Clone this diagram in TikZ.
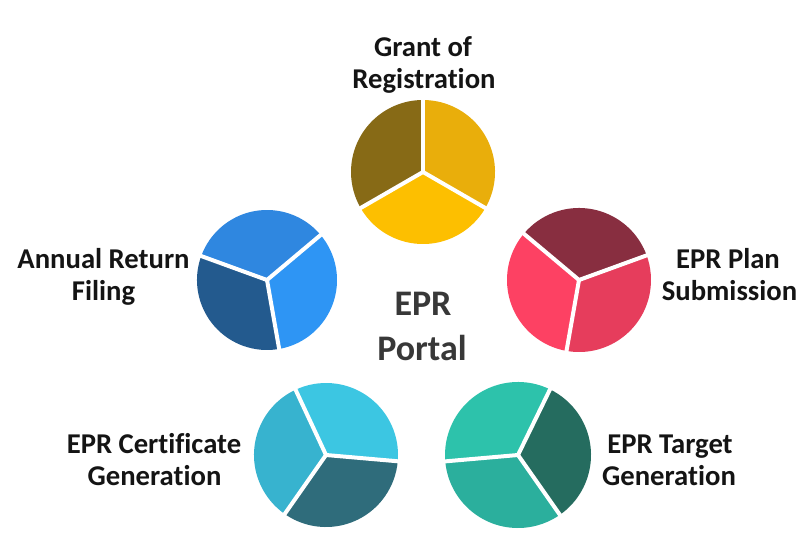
\documentclass[tikz,border=0pt]{standalone}
\usepackage{fontspec}
\setmainfont{Carlito}[RawFeature={-liga;-clig;-dlig;-calt;-rlig}]
\begin{document}
\begin{tikzpicture}[x=0.75pt,y=0.75pt,
  lbl/.style={font=\fontsize{21.5}{24}\selectfont\bfseries, text=black!92, inner sep=0pt, anchor=base},
  portal/.style={font=\fontsize{27}{32}\selectfont\bfseries, text=black!78, inner sep=0pt, anchor=base},
  gap/.style={draw=white, line width=3pt}]
\useasboundingbox[fill=white] (0,0) rectangle (806,551);
% pie: #1 center, #2 radius, #3 a1, #4 a2, #5 a3, #6..#8 colours
\newcommand{\mypie}[8]{%
  \fill[#6] #1 -- ++(#3:#2) arc[start angle=#3, end angle=#4, radius=#2] -- cycle;
  \fill[#7] #1 -- ++(#4:#2) arc[start angle=#4, end angle=#5, radius=#2] -- cycle;
  \fill[#8] #1 -- ++(#5:#2) arc[start angle=#5, end angle=#3+360, radius=#2] -- cycle;
  \draw[gap] #1 -- ++(#3:#2+2);
  \draw[gap] #1 -- ++(#4:#2+2);
  \draw[gap] #1 -- ++(#5:#2+2);
}
\definecolor{g1}{HTML}{876A16}\definecolor{g2}{HTML}{FDBF00}\definecolor{g3}{HTML}{E9AE0B}
\definecolor{b1}{HTML}{2F87E0}\definecolor{b2}{HTML}{235A8E}\definecolor{b3}{HTML}{2E95F4}
\definecolor{r1}{HTML}{882E40}\definecolor{r2}{HTML}{FD4163}\definecolor{r3}{HTML}{E63D5C}
\definecolor{c1}{HTML}{3CC6E2}\definecolor{c2}{HTML}{37B3CF}\definecolor{c3}{HTML}{2F6C7B}
\definecolor{t1}{HTML}{2DC2AB}\definecolor{t2}{HTML}{2BAF9D}\definecolor{t3}{HTML}{256C5F}
% Grant of Registration
\coordinate (pg) at (423,379);
\mypie{(pg)}{72}{90}{210}{330}{g1}{g2}{g3}
% Annual Return Filing
\coordinate (pa) at (267,271);
\mypie{(pa)}{70}{40}{160}{280}{b1}{b2}{b3}
% EPR Plan Submission
\coordinate (pp) at (579,271);
\mypie{(pp)}{72}{20}{140}{260}{r1}{r2}{r3}
% EPR Certificate Generation
\coordinate (pc) at (326,96);
\mypie{(pc)}{72}{-5}{115}{235}{c1}{c2}{c3}
% EPR Target Generation
\coordinate (pt) at (518,96);
\mypie{(pt)}{73}{64}{185}{305}{t1}{t2}{t3}
% labels
\node[lbl] (grantA) at (423,494) {Grant of};
\node[lbl] (grantB) at (424,462) {Registration};
\node[lbl] (annA) at (103.5,283) {Annual Return};
\node[lbl] (annB) at (103.5,251) {Filing};
\node[lbl] (planA) at (728,283) {EPR Plan};
\node[lbl] (planB) at (729.5,251) {Submission};
\node[lbl] (certA) at (154,98) {EPR Certificate};
\node[lbl] (certB) at (154.5,66) {Generation};
\node[lbl] (targA) at (670,98) {EPR Target};
\node[lbl] (targB) at (669,66) {Generation};
\node[portal] (portA) at (423,236) {EPR};
\node[portal] (portB) at (422,191) {Portal};
\end{tikzpicture}
\end{document}
